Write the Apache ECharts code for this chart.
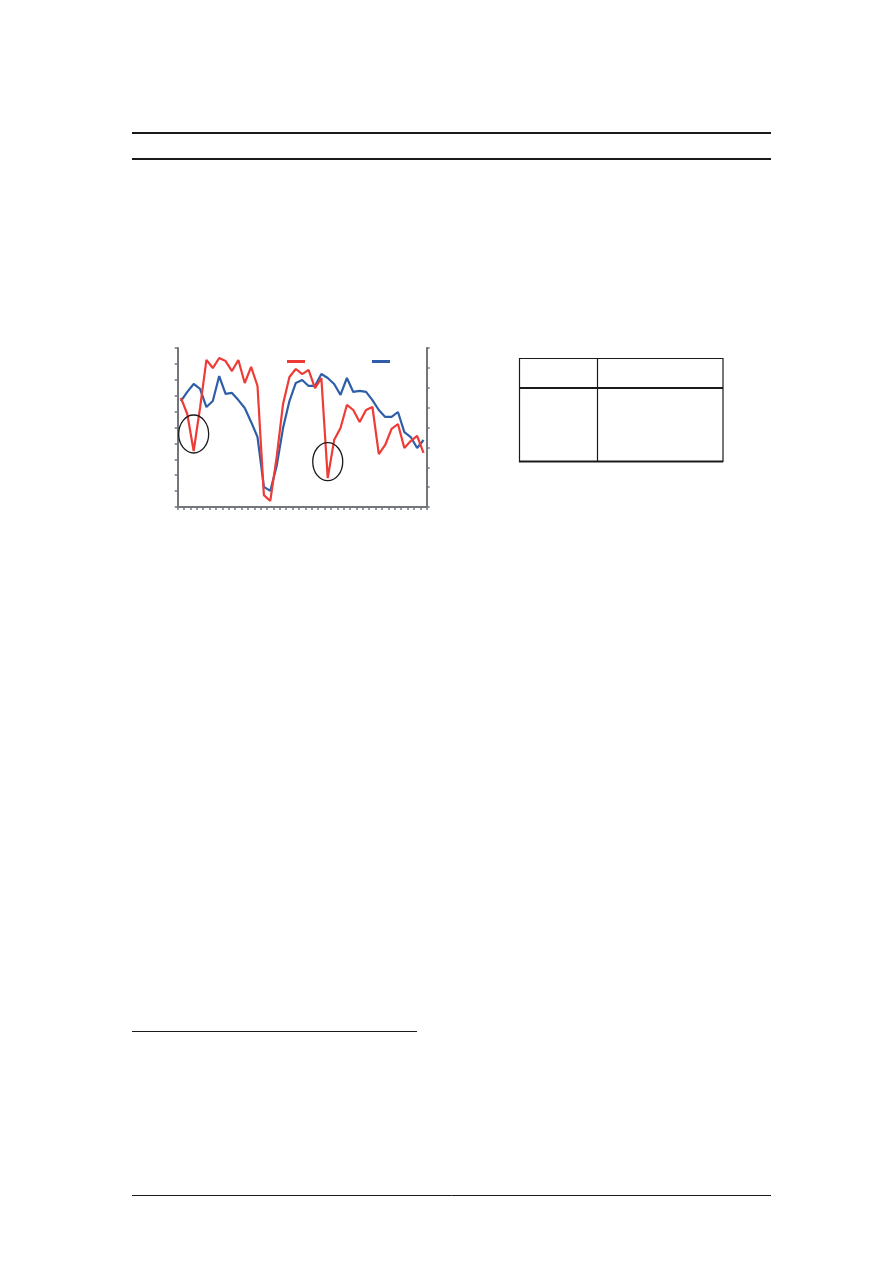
<!DOCTYPE html>
<html>
<head>
<meta charset="utf-8">
<script src="https://cdn.jsdelivr.net/npm/echarts@6/dist/echarts.min.js"></script>
<style>
  html, body { margin: 0; padding: 0; background: #fff; }
  #page { width: 892px; height: 1263px; }
</style>
</head>
<body>
<div id="page"></div>
<script>
// 39 periods along the x axis (labels not shown in the reference)
var categories = [];
for (var i = 1; i <= 39; i++) categories.push(String(i));

// red series, left axis (0-100)
var redValues = [
  68.6, 58.5, 35.2, 62.3, 92.5, 87.4, 93.7, 91.8, 85.5, 92.5,
  78.0, 88.1, 76.1, 7.5, 3.8, 31.4, 64.8, 81.8, 86.8, 83.6,
  86.2, 74.8, 81.1, 18.2, 42.1, 49.7, 64.2, 61.0, 53.5, 61.0,
  62.9, 33.3, 39.0, 49.1, 52.2, 37.1, 41.5, 44.7, 34.0
];

// blue series, right axis (0-80)
var blueValues = [
  53.3, 57.9, 61.9, 59.4, 50.3, 53.3, 65.9, 56.9, 57.4, 53.8,
  49.8, 42.8, 35.2, 10.1, 8.1, 20.6, 39.7, 53.3, 62.4, 63.9,
  60.9, 60.9, 66.9, 64.9, 61.9, 56.4, 64.9, 57.9, 58.4, 57.9,
  53.8, 48.8, 45.3, 45.3, 47.8, 37.7, 35.2, 29.7, 33.7
];

// circled dips: [category index, left-axis value of ellipse centre]
var circledPoints = [[2, 45.9], [23, 28.5]];

var axisGrey = '#73777c';
var ink = '#1a1a1a';

var chart = echarts.init(document.getElementById('page'));

function hline(x1, x2, y, w) {
  return { type: 'line', shape: { x1: x1, y1: y, x2: x2, y2: y },
           style: { stroke: ink, lineWidth: w }, silent: true };
}
function vline(x, y1, y2, w) {
  return { type: 'line', shape: { x1: x, y1: y1, x2: x, y2: y2 },
           style: { stroke: ink, lineWidth: w }, silent: true };
}

var pageGraphics = [
  hline(132, 771, 133, 2),
  hline(132, 771, 159, 2),
  hline(132, 417, 1031.5, 1),
  hline(132, 771, 1195.5, 1),
  // empty table on the right
  hline(519, 723, 358.5, 1),
  hline(519, 723, 388, 2),
  hline(519, 723, 461.5, 2),
  vline(519.5, 358, 462, 1.2),
  vline(597.5, 358, 462, 1.2),
  vline(723, 358, 462, 1.2)
];

var option = {
  animation: false,
  backgroundColor: '#fff',
  grid: { left: 177.7, right: 465.3, top: 348, bottom: 756 },
  legend: [
    { data: ['red'], left: 282, top: 355, icon: 'rect', itemWidth: 18, itemHeight: 3,
      formatter: function () { return ''; }, selectedMode: false },
    { data: ['blue'], left: 367, top: 355, icon: 'rect', itemWidth: 18, itemHeight: 3,
      formatter: function () { return ''; }, selectedMode: false }
  ],
  xAxis: {
    type: 'category',
    data: categories,
    boundaryGap: true,
    axisLine: { lineStyle: { color: axisGrey, width: 2 } },
    axisTick: { show: true, interval: 0, length: 3, lineStyle: { color: axisGrey, width: 1.5 } },
    axisLabel: { show: false, interval: 0 },
    splitLine: { show: false }
  },
  yAxis: [
    {
      type: 'value', min: 0, max: 100, interval: 10, position: 'left',
      axisLine: { show: true, lineStyle: { color: axisGrey, width: 2 } },
      axisTick: { show: true, length: 3, lineStyle: { color: axisGrey, width: 1.5 } },
      axisLabel: { show: false },
      splitLine: { show: false }
    },
    {
      type: 'value', min: 0, max: 80, interval: 10, position: 'right',
      axisLine: { show: true, lineStyle: { color: axisGrey, width: 2 } },
      axisTick: { show: true, length: 3, lineStyle: { color: axisGrey, width: 1.5 } },
      axisLabel: { show: false },
      splitLine: { show: false }
    }
  ],
  series: [
    {
      name: 'red', type: 'line', data: redValues, yAxisIndex: 0,
      symbol: 'none', lineStyle: { color: '#ee3b36', width: 2.2 }, itemStyle: { color: '#ee3b36' },
      z: 3
    },
    {
      name: 'blue', type: 'line', data: blueValues, yAxisIndex: 1,
      symbol: 'none', lineStyle: { color: '#2f5ea8', width: 2.2 }, itemStyle: { color: '#2f5ea8' },
      z: 2
    }
  ],
  graphic: pageGraphics
};

chart.setOption(option);

// ellipses around the two dips, placed through the chart's own scales
var ellipses = circledPoints.map(function (p) {
  var c = chart.convertToPixel({ xAxisIndex: 0, yAxisIndex: 0 }, p);
  return {
    type: 'ellipse',
    shape: { cx: c[0], cy: c[1], rx: 15, ry: 19 },
    style: { fill: 'none', stroke: ink, lineWidth: 1.3 },
    z: 10, silent: true
  };
});
chart.setOption({ graphic: pageGraphics.concat(ellipses) });
</script>
</body>
</html>
